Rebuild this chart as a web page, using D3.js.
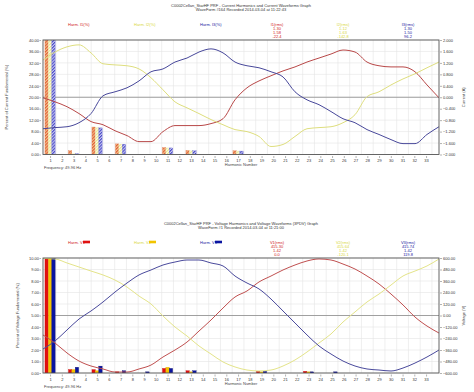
<!DOCTYPE html>
<html>
<head>
<meta charset="utf-8">
<script src="https://cdn.jsdelivr.net/npm/d3@7"></script>
<style>
body { margin: 0; background: #fff; }
text { font-family: "Liberation Sans", Arial, sans-serif; }
</style>
</head>
<body>
<svg></svg>
<script>
// harmonic numbers on the x axis
var harmonics = [1,2,3,4,5,6,7,8,9,10,11,12,13,14,15,16,17,18,19,20,21,22,23,24,25,26,27,28,29,30,31,32,33];

// current harmonics, % of fundamental (h1 = 100, runs off the top)
var harmI1 = [100,0,1.3,0,9.6,0,3.7,0,0,0,2.4,0,1.4,0,0,0,1.3,0,0,0,0,0,0,0,0,0,0,0,0,0,0,0,0];
var harmI2 = [100,0,0.3,0,9.4,0,3.6,0,0,0,2.3,0,1.3,0,0,0,1.2,0,0,0,0,0,0,0,0,0,0,0,0,0,0,0,0];
var harmI3 = [100,0,0.3,0,9.3,0,3.6,0,0,0,2.3,0,1.3,0,0,0,1.2,0,0,0,0,0,0,0,0,0,0,0,0,0,0,0,0];

// current waveforms (A), one cycle of samples
var waveI1 = [-0.02,-0.16,-0.33,-0.57,-0.85,-0.96,-1.17,-1.34,-1.55,-1.55,-1.20,-0.99,-0.99,-0.99,-0.92,-0.75,-0.09,0.33,0.57,0.75,0.92,1.06,1.23,1.37,1.51,1.65,1.58,1.23,1.10,1.06,1.06,0.89,0.43,-0.02];
var waveI2 = [1.30,1.58,1.76,1.83,1.55,1.17,1.13,1.10,0.99,0.68,0.26,-0.16,-0.37,-0.57,-0.78,-0.96,-1.13,-1.20,-1.37,-1.72,-1.65,-1.37,-1.10,-1.06,-1.03,-0.89,-0.61,0.02,0.19,0.43,0.64,0.82,1.03,1.23];
var waveI3 = [-1.10,-1.06,-1.03,-0.89,-0.57,0.05,0.19,0.33,0.57,0.89,0.99,1.23,1.37,1.58,1.69,1.55,1.23,1.10,1.03,0.89,0.71,0.19,-0.09,-0.26,-0.50,-0.75,-0.89,-1.13,-1.30,-1.48,-1.62,-1.62,-1.30,-1.03];

// voltage harmonics, % of fundamental
var harmV1 = [100,0,0.3,0,0.3,0,0.1,0,0,0,0.4,0,0.2,0,0,0,0,0,0.15,0,0,0,0.15,0,0,0,0,0,0,0,0,0,0];
var harmV2 = [100,0,0.3,0,0.2,0,0,0,0,0,0.5,0,0.1,0,0,0,0,0,0.1,0,0,0,0.1,0,0,0,0,0,0,0,0,0,0];
var harmV3 = [100,0,0.5,0,0.6,0,0.2,0,0.1,0,0.4,0,0.2,0,0,0,0,0,0.15,0,0,0,0.1,0,0.1,0,0,0,0,0,0,0,0];

// voltage waveforms (V)
var waveV1 = [-203,-287,-391,-475,-527,-558,-590,-590,-558,-517,-433,-360,-277,-162,-47,78,193,256,350,412,475,527,569,590,579,537,485,412,329,224,110,-16,-110,-183];
var waveV2 = [595,590,548,506,464,423,370,297,203,120,-5,-120,-214,-318,-402,-485,-537,-569,-579,-569,-527,-464,-381,-287,-193,-68,37,141,224,318,412,464,517,590];
var waveV3 = [-350,-266,-151,-37,47,141,245,339,423,475,527,558,579,579,548,517,412,339,277,172,47,-78,-203,-318,-402,-475,-527,-558,-569,-579,-548,-496,-433,-360];

var leftTicksTop = [0,4,8,12,16,20,24,28,32,36,40];
var rightTicksTop = [-2,-1.6,-1.2,-0.8,-0.4,0,0.4,0.8,1.2,1.6,2];
var leftTicksBot = [0,1,2,3,4,5,6,7,8,9,10];
var rightTicksBot = [-600,-480,-360,-240,-120,0,120,240,360,480,600];

var svgWidth = 474, svgHeight = 392;
var svg = d3.select("svg").attr("width", svgWidth).attr("height", svgHeight);
var defs = svg.append("defs");

function hatch(id, color, bg) {
    var p = defs.append("pattern").attr("id", id)
        .attr("patternUnits", "userSpaceOnUse")
        .attr("width", 2.2).attr("height", 2.2)
        .attr("patternTransform", "rotate(45)");
    p.append("rect").attr("width", 2.2).attr("height", 2.2).attr("fill", bg);
    p.append("rect").attr("width", 1.1).attr("height", 2.2).attr("fill", color);
}
hatch("hRed", "#e0603a", "#f3c08a");
hatch("hYel", "#e8e890", "#fbfbe8");
hatch("hBlu", "#4a4ac8", "#c8c8f0");

var plotLeft = 43, plotRight = 439;
var x = d3.scaleLinear().domain([0.4, 34.1]).range([plotLeft, plotRight]);
var xs = d3.scaleLinear().domain([0, 33]).range([plotLeft, plotRight]);

function panel(cfg) {
    var g = svg.append("g");
    var yL = d3.scaleLinear().domain(cfg.leftDomain).range([cfg.bottom, cfg.top]);
    var yR = d3.scaleLinear().domain(cfg.rightDomain).range([cfg.bottom, cfg.top]);

    defs.append("clipPath").attr("id", cfg.id + "clip")
        .append("rect").attr("x", plotLeft).attr("y", cfg.top)
        .attr("width", plotRight - plotLeft).attr("height", cfg.bottom - cfg.top);

    // grid
    g.selectAll(".hg").data(cfg.leftTicks).enter().append("line")
        .attr("x1", plotLeft).attr("x2", plotRight)
        .attr("y1", function(d) { return yL(d); }).attr("y2", function(d) { return yL(d); })
        .style("stroke", "#e4e4e4").style("stroke-width", 0.6);
    g.selectAll(".vg").data(harmonics).enter().append("line")
        .attr("x1", function(d) { return x(d + 0.5); }).attr("x2", function(d) { return x(d + 0.5); })
        .attr("y1", cfg.top).attr("y2", cfg.bottom)
        .style("stroke", "#e4e4e4").style("stroke-width", 0.6);
    g.append("line").attr("x1", plotLeft).attr("x2", plotRight)
        .attr("y1", yR(0)).attr("y2", yR(0))
        .style("stroke", "#8c8c8c").style("stroke-width", 0.8);

    // bars
    var bw = 3.4;
    var top = cfg.leftDomain[1] * 1.05;
    var bars = g.append("g").attr("clip-path", "url(#" + cfg.id + "clip)");
    cfg.series.forEach(function(s, k) {
        var pts = s.values.map(function(v, i) { return { h: harmonics[i], v: v }; })
            .filter(function(d) { return d.v > 0; });
        bars.selectAll(".b" + k).data(pts).enter().append("rect")
            .attr("x", function(d) { return x(d.h) - 5.1 + k * bw; })
            .attr("width", bw)
            .attr("y", function(d) { return yL(Math.min(d.v, top)); })
            .attr("height", function(d) { return cfg.bottom - yL(Math.min(d.v, top)); })
            .attr("fill", s.fill)
            .style("stroke", s.stroke).style("stroke-width", 0.3);
    });

    // waveforms
    var line = d3.line().x(function(d, i) { return xs(i); }).y(function(d) { return yR(d); })
        .curve(d3.curveMonotoneX);
    cfg.waves.forEach(function(w) {
        bars.append("path").datum(w.values).attr("d", line)
            .attr("fill", "none").style("stroke", w.color).style("stroke-width", 1);
    });

    // frame
    g.append("rect").attr("x", plotLeft).attr("y", cfg.top)
        .attr("width", plotRight - plotLeft).attr("height", cfg.bottom - cfg.top)
        .attr("fill", "none").style("stroke", "#555").style("stroke-width", 0.9);

    // axes
    var la = g.append("g").attr("transform", "translate(" + (plotLeft - 2) + ",0)")
        .call(d3.axisLeft(yL).tickValues(cfg.leftTicks).tickSize(1.5).tickFormat(d3.format(".2f")));
    var ra = g.append("g").attr("transform", "translate(" + (plotRight + 1) + ",0)")
        .call(d3.axisRight(yR).tickValues(cfg.rightTicks).tickSize(2).tickFormat(d3.format(cfg.rightFormat)));
    var xa = g.append("g").attr("transform", "translate(0," + (cfg.bottom + 1.5) + ")")
        .call(d3.axisBottom(x).tickValues(harmonics).tickSize(2).tickFormat(d3.format("d")));
    [la, ra, xa].forEach(function(a) {
        a.select(".domain").remove();
        a.selectAll("line").style("stroke", "#666").style("stroke-width", 0.5);
        a.selectAll("text").style("font-size", "4px").attr("fill", "#333");
    });
    la.selectAll("text").attr("x", -2);
    ra.selectAll("text").attr("x", 3);
    xa.selectAll("text").attr("y", 3.5);

    // axis titles
    g.append("text").attr("transform", "translate(" + cfg.leftLabelX + "," + ((cfg.top + cfg.bottom) / 2) + ") rotate(-90)")
        .attr("text-anchor", "middle").style("font-size", "4px").attr("fill", "#444").text(cfg.leftLabel);
    g.append("text").attr("transform", "translate(465," + ((cfg.top + cfg.bottom) / 2) + ") rotate(-90)")
        .attr("text-anchor", "middle").style("font-size", "4px").attr("fill", "#444").text(cfg.rightLabel);
    g.append("text").attr("x", 241).attr("y", cfg.bottom + 11.5).attr("text-anchor", "middle")
        .style("font-size", "4px").attr("fill", "#444").text("Harmonic Number");
    g.append("text").attr("x", 44).attr("y", cfg.bottom + 14.5)
        .style("font-size", "4px").attr("fill", "#444").text("Frequency: 49.96 Hz");

    // titles
    g.selectAll(".ttl").data(cfg.title).enter().append("text")
        .attr("x", 241).attr("y", function(d, i) { return cfg.titleY + i * 4.5; })
        .attr("text-anchor", "middle").style("font-size", "4px").attr("fill", "#333")
        .text(function(d) { return d; });

    // legend
    var legX = [68, 134, 200], infoX = [277, 343, 408];
    cfg.waves.forEach(function(w, k) {
        g.append("text").attr("x", legX[k]).attr("y", cfg.legendY)
            .style("font-size", "4px").attr("fill", w.text).text(cfg.series[k].name);
        if (cfg.swatch) {
            g.append("rect").attr("x", legX[k] + 15).attr("y", cfg.legendY - 2.8)
                .attr("width", 7).attr("height", 2.6).attr("fill", cfg.series[k].fill);
        }
        g.selectAll(".inf" + k).data(w.info).enter().append("text")
            .attr("x", infoX[k]).attr("y", function(d, i) { return cfg.legendY + i * 4; })
            .attr("text-anchor", "middle").style("font-size", "4px").attr("fill", w.text)
            .text(function(d) { return d; });
    });
}

panel({
    id: "cur", top: 40, bottom: 154.5,
    leftDomain: [0, 40], rightDomain: [-2, 2],
    leftTicks: leftTicksTop, rightTicks: rightTicksTop, rightFormat: ".3f",
    leftLabel: "Percent of Current Fundamental (%)", rightLabel: "Current (A)", leftLabelX: 8,
    title: ["C0002Cellan_StarHF PRF - Current Harmonics and Current Waveforms Graph",
            "WaveForm #164 Recorded 2014-03-04 at 11:22:43"],
    titleY: 6.5, legendY: 25.5, swatch: false,
    series: [
        { name: "Harm. I1(%)", values: harmI1, fill: "url(#hRed)", stroke: "#e07040" },
        { name: "Harm. I2(%)", values: harmI2, fill: "url(#hYel)", stroke: "#eeeeb0" },
        { name: "Harm. I3(%)", values: harmI3, fill: "url(#hBlu)", stroke: "#6a6ad0" }
    ],
    waves: [
        { values: waveI1, color: "#b84848", text: "#d02020", info: ["I1(rms)", "1.30", "1.58", "-22.4"] },
        { values: waveI2, color: "#dede7e", text: "#d8d840", info: ["I2(rms)", "1.12", "1.63", "-142.8"] },
        { values: waveI3, color: "#48489a", text: "#2020a0", info: ["I3(rms)", "1.30", "1.50", "96.2"] }
    ]
});

panel({
    id: "vol", top: 258, bottom: 373,
    leftDomain: [0, 10], rightDomain: [-600, 600],
    leftTicks: leftTicksBot, rightTicks: rightTicksBot, rightFormat: ".2f",
    leftLabel: "Percent of Voltage Fundamental (%)", rightLabel: "Voltage (V)", leftLabelX: 19,
    title: ["C0002Cellan_StarHF PRF - Voltage Harmonics and Voltage Waveforms (3PDV) Graph",
            "WaveForm #1 Recorded 2014-03-04 at 11:21:00"],
    titleY: 224.5, legendY: 243.5, swatch: true,
    series: [
        { name: "Harm. V1", values: harmV1, fill: "#e01010", stroke: "#c00000" },
        { name: "Harm. V2", values: harmV2, fill: "#f2c400", stroke: "#e0a000" },
        { name: "Harm. V3", values: harmV3, fill: "#0a14a0", stroke: "#000060" }
    ],
    waves: [
        { values: waveV1, color: "#c05050", text: "#d02020", info: ["V1(rms)", "415.30", "1.42", "0.0"] },
        { values: waveV2, color: "#e4e48a", text: "#d8d840", info: ["V2(rms)", "415.64", "1.42", "-120.1"] },
        { values: waveV3, color: "#4a4a9c", text: "#2020a0", info: ["V3(rms)", "415.74", "1.42", "119.8"] }
    ]
});
</script>
</body>
</html>
